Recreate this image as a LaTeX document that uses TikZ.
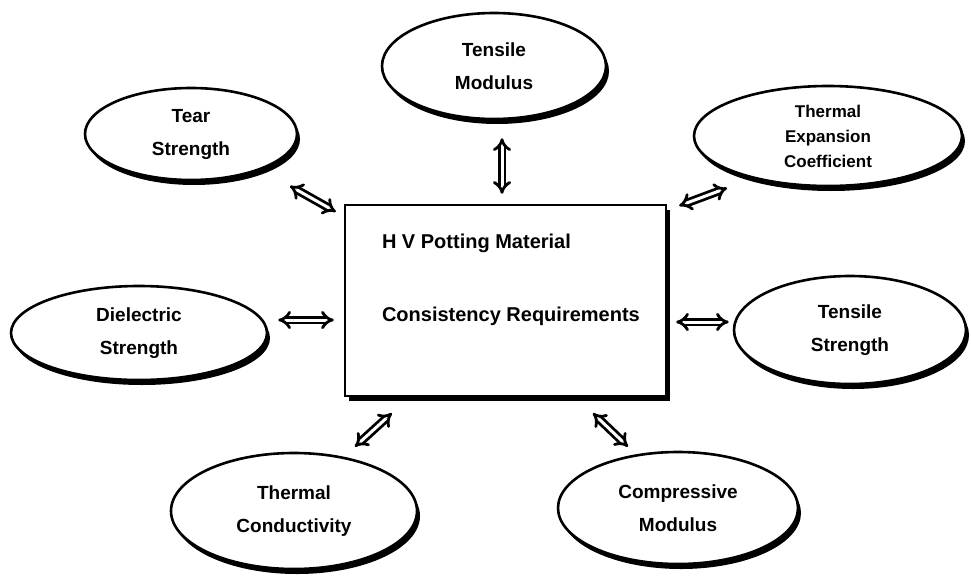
\documentclass[tikz,border=0pt]{standalone}
\usepackage{fontspec}
\setmainfont{Liberation Sans}
\usetikzlibrary{shapes.geometric,shadows,arrows.meta}
\tikzset{
  prop/.style={ellipse, draw, line width=2.6pt, fill=white, inner sep=0pt, align=center,
    font=\bfseries\fontsize{19}{33}\selectfont,
    drop shadow={shadow xshift=3pt, shadow yshift=-5pt, fill=black, opacity=1}},
  link/.style={double, double distance=3pt, line width=2.8pt, {Implies}-{Implies}},
  boxtext/.style={anchor=west, inner sep=0pt, font=\bfseries\fontsize{20}{24}\selectfont},
}
\begin{document}
\begin{tikzpicture}[x=1pt, y=-1pt]
        \useasboundingbox (0,0) rectangle (971,578);
        % central box
        \node[draw, line width=2.4pt, fill=white, minimum width=321pt, minimum height=191pt, inner sep=0pt,
          drop shadow={shadow xshift=4pt, shadow yshift=-5pt, fill=black, opacity=1}] (req) at (505.5,300.5) {};
        \node[boxtext] (hv) at ([xshift=38pt, yshift=-40pt]req.north west) {H V Potting Material};
        \node[boxtext] (cons) at ([xshift=38pt, yshift=-113pt]req.north west) {Consistency Requirements};
        % properties
        \node[prop, minimum width=224pt, minimum height=106pt] (tensmod) at (494,66) {Tensile\\Modulus};
        \node[prop, minimum width=212pt, minimum height=92pt] (tear) at (191,134) {Tear\\Strength};
        \node[prop, minimum width=268pt, minimum height=100pt, font=\bfseries\fontsize{17}{25}\selectfont] (thexp) at (828,136) {Thermal\\Expansion\\Coefficient};
        \node[prop, minimum width=256pt, minimum height=94pt] (diel) at (139,333) {Dielectric\\Strength};
        \node[prop, minimum width=232pt, minimum height=108pt] (tensstr) at (850,330) {Tensile\\Strength};
        \node[prop, minimum width=246pt, minimum height=116pt] (thcond) at (294,511) {Thermal\\Conductivity};
        \node[prop, minimum width=240pt, minimum height=112pt] (comp) at (678,508) {Compressive\\Modulus};
        % links
        \draw[link] ([shift={(99,52)}]tear.center) -- ([shift={(-8,8)}]req.north west);
        \draw[link] ([shift={(8,18)}]tensmod.south) -- ([shift={(-3.5,-10)}]req.north);
        \draw[link] ([shift={(-101,52)}]thexp.center) -- ([shift={(12,2)}]req.north east);
        \draw[link] ([shift={(10,-13)}]diel.east) -- ([shift={(-10,19.5)}]req.west);
        \draw[link] ([shift={(-4,-8)}]tensstr.west) -- ([shift={(9,21.5)}]req.east);
        \draw[link] ([shift={(61,-5)}]thcond.north) -- ([shift={(48,16)}]req.south west);
        \draw[link] ([shift={(-50,-4)}]comp.north) -- ([shift={(87.5,16)}]req.south);
\end{tikzpicture}
\end{document}
